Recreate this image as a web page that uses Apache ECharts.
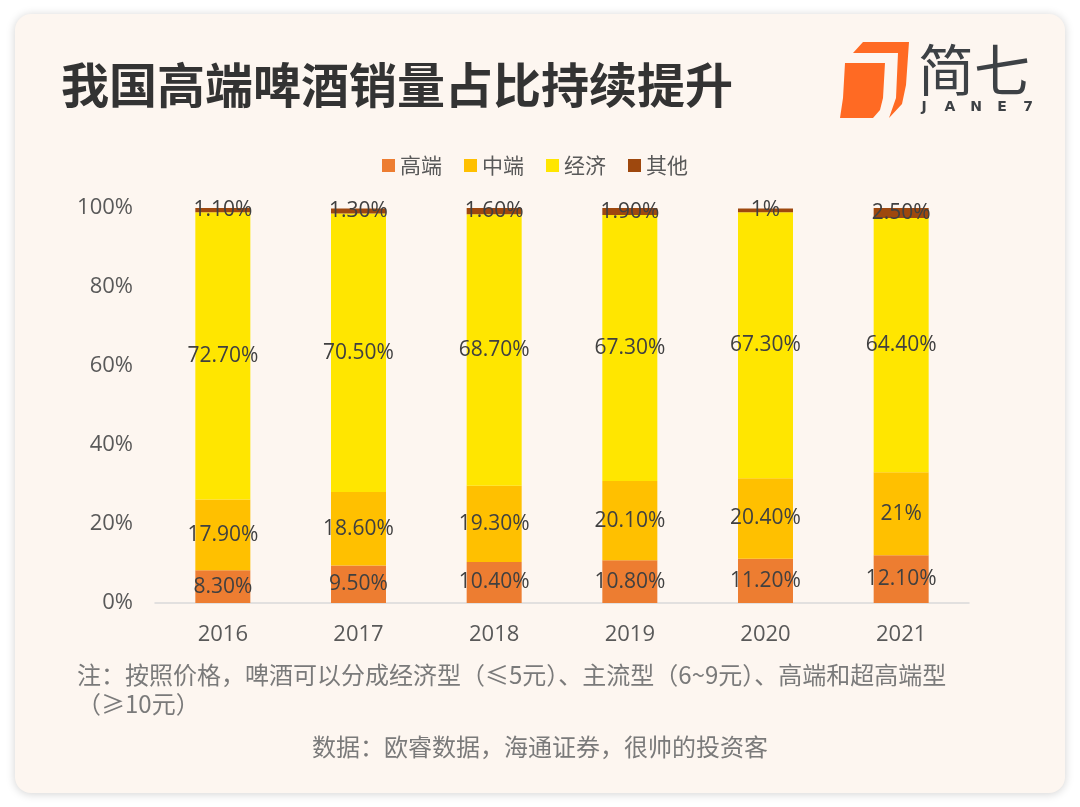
<!DOCTYPE html>
<html>
<head>
<meta charset="utf-8">
<script src="https://cdn.jsdelivr.net/npm/echarts@6/dist/echarts.min.js"></script>
<style>
html,body{margin:0;padding:0;background:#ffffff;}
#chart{width:1080px;height:807px;}
</style>
</head>
<body>
<div id="chart"></div>
<script>
var years = ['2016', '2017', '2018', '2019', '2020', '2021'];
var seriesNames = ['高端', '中端', '经济', '其他'];
var highEnd = [8.3, 9.5, 10.4, 10.8, 11.2, 12.1];
var midEnd = [17.9, 18.6, 19.3, 20.1, 20.4, 21];
var economy = [72.7, 70.5, 68.7, 67.3, 67.3, 64.4];
var other = [1.1, 1.3, 1.6, 1.9, 1, 2.5];
var yTicks = [0, 20, 40, 60, 80, 100];

var colors = ['#ED7D31', '#FFC000', '#FFE600', '#9E480E'];
var FONT = "'Open Sans', 'Noto Sans CJK SC', sans-serif";
var CJK = "'Noto Sans CJK SC', sans-serif";

function fmt(v) {
  return (Number.isInteger(v) ? String(v) : v.toFixed(2)) + '%';
}

var dataSets = [highEnd, midEnd, economy, other];
var series = dataSets.map(function (d, i) {
  return {
    name: seriesNames[i],
    type: 'bar',
    stack: 'total',
    barWidth: 55,
    data: d,
    itemStyle: { color: colors[i] },
    label: {
      show: true,
      position: 'inside',
      padding: [9, 0, 0, 0],
      formatter: function (p) { return fmt(p.value); },
      color: '#404040',
      fontSize: 21,
      fontFamily: FONT
    },
    labelLayout: { hideOverlap: false },
    z: 2
  };
});

var logoFont = "'DejaVu Sans', sans-serif";
var logoLetters = ['J', 'A', 'N', 'E', '7'];
var logoGraphics = logoLetters.map(function (ch, i) {
  return { type: 'text', x: 924 + i * 26, y: 107, z: 5,
    style: { text: ch, fontSize: 14, fontWeight: 'bold', fontFamily: logoFont, fill: '#3D4145', align: 'center', verticalAlign: 'middle' } };
});

var chart = echarts.init(document.getElementById('chart'), null, { renderer: 'canvas' });
chart.setOption({
  animation: false,
  backgroundColor: '#ffffff',
  color: colors,
  graphic: [
    {
      type: 'rect', z: -10, silent: true,
      shape: { x: 15, y: 14, width: 1050, height: 779, r: 16 },
      style: { fill: '#FDF6F0', shadowBlur: 10, shadowColor: 'rgba(0,0,0,0.18)', shadowOffsetY: 1 }
    },
    {
      type: 'text', left: 61, top: 61, z: 5,
      style: { text: '我国高端啤酒销量占比持续提升', fontSize: 48, fontWeight: 'bold', fontFamily: CJK, fill: '#333333' }
    },
    {
      type: 'polygon', z: 5, silent: true,
      shape: { points: [[863, 42], [909, 42], [906, 85], [902, 104], [889, 118], [896, 98], [898, 53], [853, 53]] },
      style: { fill: '#FF6A23' }
    },
    {
      type: 'polygon', z: 5, silent: true,
      shape: { points: [[845, 63], [885, 63], [883, 98], [880, 110], [873, 118], [840, 118], [843, 98]] },
      style: { fill: '#FF6A23' }
    },
    {
      type: 'text', left: 918, top: 42, z: 5,
      style: { text: '简七', fontSize: 56, fontFamily: CJK, fill: '#3D4145' }
    }
  ].concat(logoGraphics).concat([
    {
      type: 'text', left: 77, top: 660, z: 5,
      style: {
        text: '注：按照价格，啤酒可以分成经济型（≤5元）、主流型（6~9元）、高端和超高端型\n（≥10元）',
        fontSize: 24, lineHeight: 29, fontFamily: CJK, fill: '#7A7A7A'
      }
    },
    {
      type: 'text', left: 'center', top: 735, z: 5,
      style: { text: '数据：欧睿数据，海通证券，很帅的投资客', fontSize: 24, fontFamily: CJK, fill: '#7A7A7A' }
    }
  ]),
  legend: {
    data: seriesNames,
    left: 377,
    top: 150,
    itemWidth: 13,
    itemHeight: 13,
    itemGap: 22,
    icon: 'rect',
    textStyle: { fontSize: 21, color: '#595959', fontFamily: CJK }
  },
  grid: { left: 155, right: 111, top: 208, bottom: 204, containLabel: false },
  xAxis: {
    type: 'category',
    data: years,
    axisLine: { show: true, lineStyle: { color: '#D9D9D9', width: 1.5 } },
    axisTick: { show: false },
    axisLabel: { color: '#595959', fontSize: 22, fontFamily: FONT, margin: 21 }
  },
  yAxis: {
    type: 'value',
    min: yTicks[0],
    max: yTicks[yTicks.length - 1],
    interval: 20,
    axisLine: { show: false },
    axisTick: { show: false },
    splitLine: { show: false },
    axisLabel: { color: '#595959', fontSize: 22, fontFamily: FONT, margin: 22, formatter: '{value}%' }
  },
  series: series
});
</script>
</body>
</html>
